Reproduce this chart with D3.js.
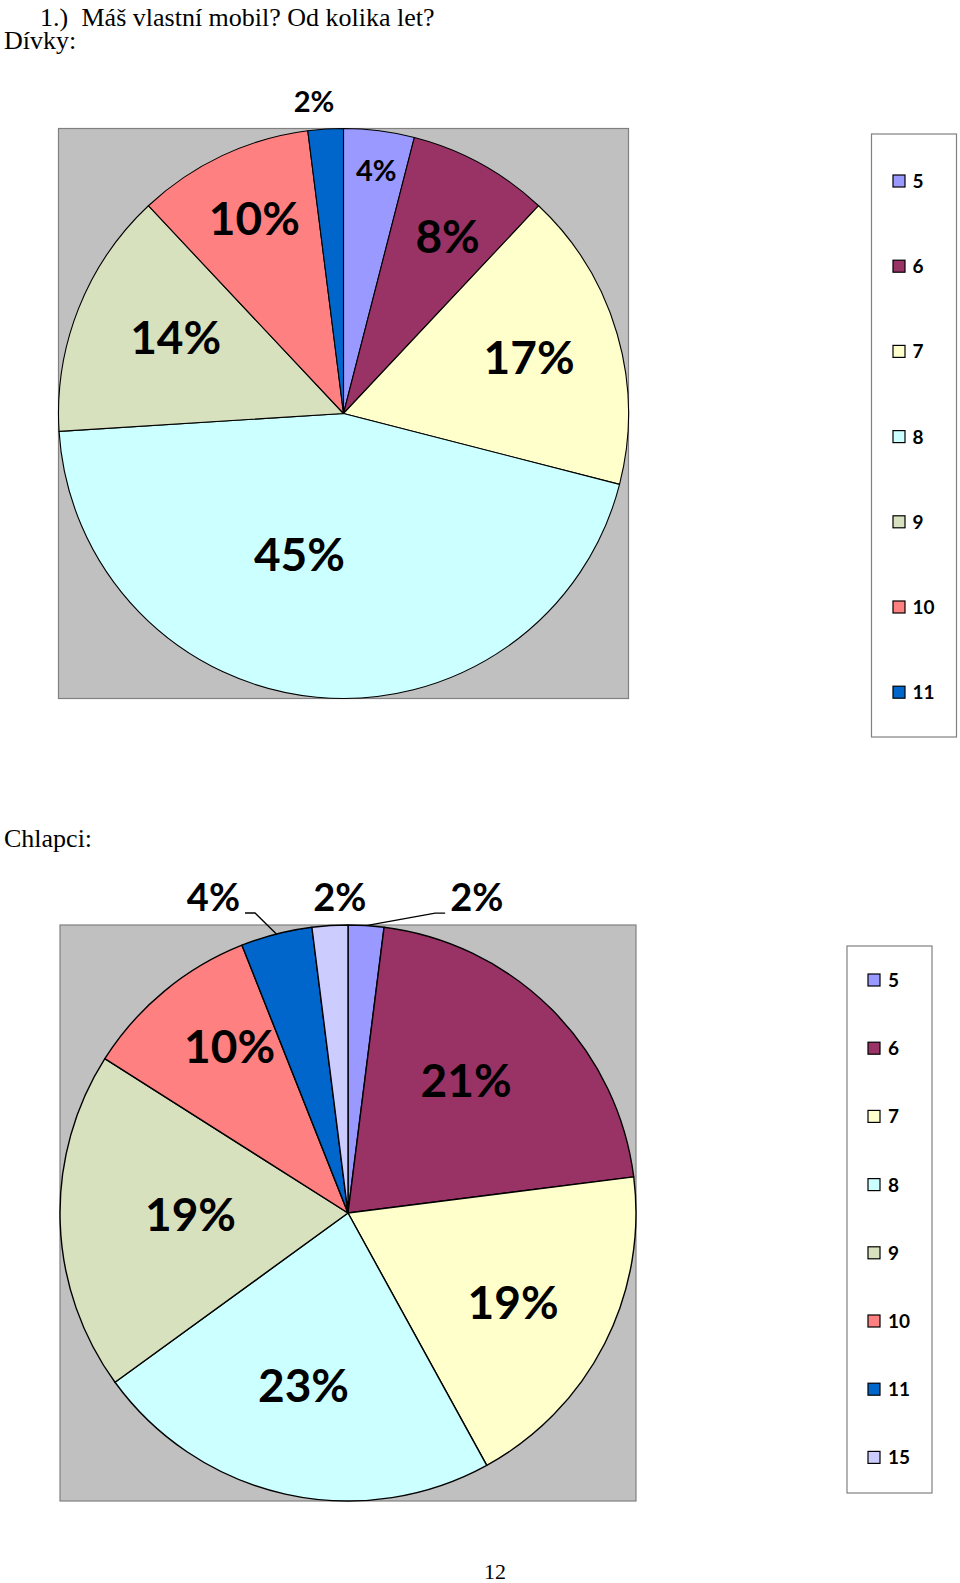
<!DOCTYPE html>
<html><head><meta charset="utf-8">
<script src="https://cdn.jsdelivr.net/npm/d3@7"></script>
<style>
html,body{margin:0;padding:0;background:#fff;}
svg{display:block;}
</style></head>
<body>
<svg id="chart" width="960" height="1583"></svg>
<script>
// ---- data ----
const girlsAges = ["5", "6", "7", "8", "9", "10", "11"];
const girlsValues = [4, 8, 17, 45, 14, 10, 2];
const boysAges = ["5", "6", "7", "8", "9", "10", "11", "15"];
const boysValues = [2, 21, 19, 23, 19, 10, 4, 2];
const ageKeys = ["5", "6", "7", "8", "9", "10", "11", "15"];
const ageColors = ["#9999FF", "#993366", "#FFFFCC", "#CCFFFF", "#D8E1BD", "#FF8080", "#0066CC", "#CCCCFF"];
const titleNumber = "1.)";
const titleText = "Máš vlastní mobil? Od kolika let?";
const girlsHeading = "Dívky:";
const boysHeading = "Chlapci:";
const pageNumber = "12";

// ---- layout (positions/styles only) ----
const girlsLayout = {
  cx: 343.5, cy: 413.5, r: 285, stroke: 1.1,
  labelK:   [0.859, 0.722, 0.680, 0.517, 0.647, 0.752, 1.101],
  labelOff: [0.5, 1.6, -0.5, 12, 2.9, 0.6, -1.8],
  labelSize:[29, 46, 46, 46, 46, 46, 29],
  legend: {x0: 871.5, y0: 134, x1: 956.5, y1: 737, first: 181, step: 85.2, sqX: 893, textX: 912.5}
};
const boysLayout = {
  cx: 348, cy: 1213, r: 288, stroke: 1.4,
  labelK:   [1.183, 0.615, 0.653, 0.617, 0.547, 0.708, 1.191, 1.096],
  labelOff: [18.6, -3.2, 1.6, 1.9, 1.1, 4.1, -8.7, 2.1],
  labelSize:[38, 46, 46, 46, 46, 46, 38, 38],
  legend: {x0: 847, y0: 946, x1: 932, y1: 1493, first: 980, step: 68.2, sqX: 868, textX: 888}
};

const color = d3.scaleOrdinal().domain(ageKeys).range(ageColors);
const svg = d3.select("#chart");

// headings
const serif = "'Liberation Serif','Times New Roman',serif";
svg.append("text").attr("x", 40).attr("y", 26).attr("font-family", serif).attr("font-size", 26).text(titleNumber);
svg.append("text").attr("x", 81.5).attr("y", 26).attr("font-family", serif).attr("font-size", 26).text(titleText);
svg.append("text").attr("x", 4).attr("y", 49).attr("font-family", serif).attr("font-size", 26).text(girlsHeading);
svg.append("text").attr("x", 4).attr("y", 847).attr("font-family", serif).attr("font-size", 26).text(boysHeading);
svg.append("text").attr("x", 495).attr("y", 1579).attr("text-anchor", "middle").attr("font-family", serif).attr("font-size", 22).text(pageNumber);

function drawPie(ages, values, L) {
  const g = svg.append("g");
  // plot area
  g.append("rect")
    .attr("x", L.cx - L.r).attr("y", L.cy - L.r)
    .attr("width", 2 * L.r).attr("height", 2 * L.r)
    .attr("fill", "#C0C0C0").attr("stroke", "#808080").attr("stroke-width", 1.2);

  const data = ages.map((a, i) => ({age: a, value: values[i], i}));
  const pie = d3.pie().sort(null).value(d => d.value).startAngle(0).endAngle(2 * Math.PI);
  const arcs = pie(data);
  const arc = d3.arc().innerRadius(0).outerRadius(L.r);

  const pg = g.append("g").attr("transform", `translate(${L.cx},${L.cy})`);
  pg.selectAll("path.slice").data(arcs).join("path")
    .attr("class", "slice")
    .attr("d", arc)
    .attr("fill", d => color(d.data.age))
    .attr("stroke", "#000").attr("stroke-width", L.stroke).attr("stroke-linejoin", "round");

  const total = d3.sum(values);
  const fmt = d => Math.round(d.data.value / total * 100) + "%";

  arcs.forEach((d, i) => {
    const mid = (d.startAngle + d.endAngle) / 2;
    const a = mid + L.labelOff[i] * Math.PI / 180;
    const k = L.labelK[i];
    const x = Math.sin(a) * k * L.r;
    const y = -Math.cos(a) * k * L.r;
    const fs = L.labelSize[i];
    const t = pg.append("text")
      .attr("x", x).attr("y", y + fs * 0.358)
      .attr("text-anchor", "middle")
      .attr("font-family", "Lato, 'Open Sans', sans-serif")
      .attr("font-weight", "bold")
      .attr("font-size", fs)
      .attr("fill", "#000")
      .text(fmt(d));
    if (k > 1.15) {
      const w = t.node().getComputedTextLength();
      const px = Math.sin(mid) * L.r, py = -Math.cos(mid) * L.r;
      const side = x < px ? 1 : -1; // label left of slice -> leader goes right
      const ly = y + 15.5;
      const start = x + side * (w / 2 + 5);
      const knee = x + side * (w / 2 + 15);
      pg.append("path")
        .attr("d", d3.line()([[start, ly], [knee, ly], [px, py]]))
        .attr("fill", "none").attr("stroke", "#000").attr("stroke-width", 1.3);
    }
  });

  // legend
  const lg = L.legend;
  g.append("rect").attr("x", lg.x0).attr("y", lg.y0)
    .attr("width", lg.x1 - lg.x0).attr("height", lg.y1 - lg.y0)
    .attr("fill", "#fff").attr("stroke", "#808080").attr("stroke-width", 1.2);
  const items = g.selectAll("g.leg").data(ages).join("g").attr("class", "leg")
    .attr("transform", (d, i) => `translate(0,${lg.first + i * lg.step})`);
  items.append("rect").attr("x", lg.sqX).attr("y", -6).attr("width", 12).attr("height", 12)
    .attr("fill", d => color(d)).attr("stroke", "#000").attr("stroke-width", 1.2);
  items.append("text").attr("x", lg.textX).attr("y", 7)
    .attr("font-family", "Lato, 'Open Sans', sans-serif").attr("font-weight", "bold")
    .attr("font-size", 19).attr("fill", "#000").text(d => d);
}

drawPie(girlsAges, girlsValues, girlsLayout);
drawPie(boysAges, boysValues, boysLayout);
</script>
</body></html>
